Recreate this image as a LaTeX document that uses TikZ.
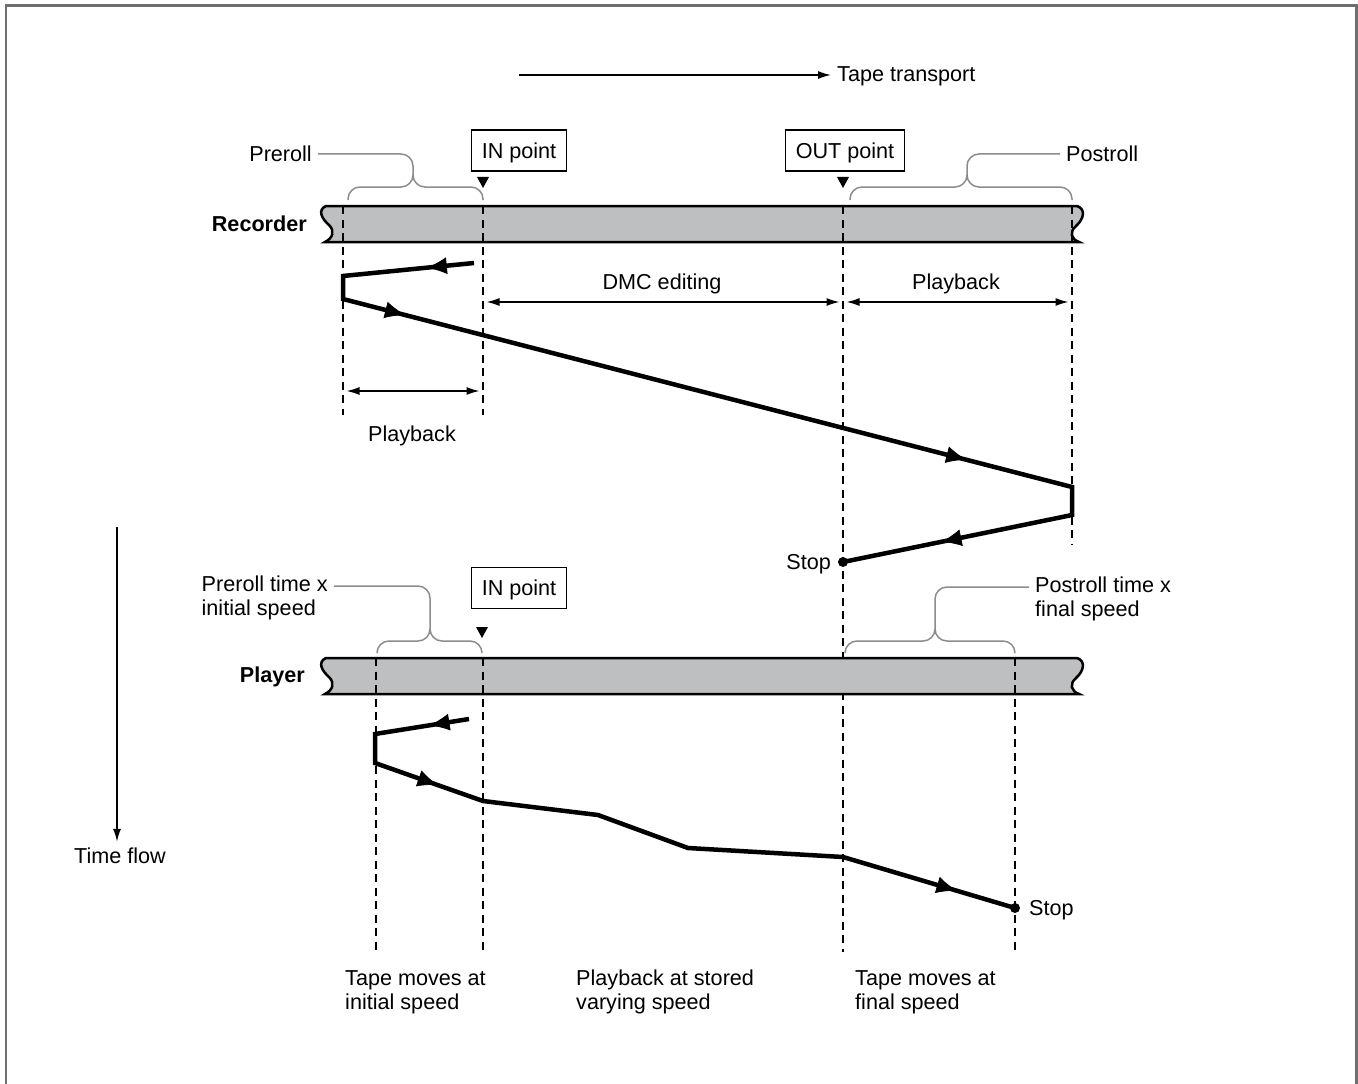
\documentclass[tikz,border=0pt]{standalone}
\usepackage{fontspec}
\setmainfont{Liberation Sans}
\usetikzlibrary{arrows.meta,decorations.markings}

\definecolor{tapegray}{HTML}{BEBFC1}
\definecolor{bracegray}{HTML}{8C8C8C}
\definecolor{framegray}{HTML}{6E6E6E}

\tikzset{
  tapeband/.style={draw=black, line width=0.5mm, fill=tapegray},
  cueline/.style={line width=0.3mm, dash pattern=on 1.6mm off 1.1mm},
  rollbrace/.style={bracegray, line width=0.3mm, rounded corners=2.4mm},
  spanarrow/.style={line width=0.3mm, {Latex[length=2.6mm,width=1.6mm]}-{Latex[length=2.6mm,width=1.6mm]}, shorten >=0.7mm, shorten <=0.7mm},
  flowarrow/.style={line width=0.3mm, -{Latex[length=2.6mm,width=1.6mm]}},
  tapepath/.style={line width=0.9mm, line join=miter},
  midarrow/.style={postaction={decorate}, decoration={markings, mark=at position #1 with {\arrow{Latex[length=4mm,width=3.4mm]}}}},
  cuebox/.style={draw, line width=0.25mm, minimum height=8.2mm, inner xsep=2mm, text depth=0pt},
  vtrname/.style={font=\fontsize{12.3}{13.6}\selectfont\bfseries}
}

% torn tape strip, top edge at y=#1
\newcommand{\drawtape}[1]{
  \draw[tapeband] (326,#1) -- (1077,#1)
    .. controls (1086,#1+3) and (1084,#1+13) .. (1076,#1+20)
    .. controls (1069,#1+26) and (1071,#1+33) .. (1079,#1+36)
    -- (325,#1+36)
    .. controls (333,#1+32) and (335,#1+25) .. (329,#1+19)
    .. controls (322,#1+13) and (317,#1+4) .. (326,#1) -- cycle;
}
% cue marker below a box
\newcommand{\cuemark}[2]{
  \fill (#1-6,#2-5) -- (#1+6,#2-5) -- (#1,#2+6) -- cycle;
}

\begin{document}
\begin{tikzpicture}[x=0.2mm, y=-0.2mm, font=\fontsize{12.3}{13.6}\selectfont]
    \def\rectop{206}
    \def\plytop{658}

    \useasboundingbox (0,0) rectangle (1358,1084);
    \draw[framegray, line width=0.45mm] (6,1090) -- (6,5.5) -- (1356.5,5.5) -- (1356.5,1090);

    % directions
    \coordinate (tpStart) at (519,75);
    \node[anchor=west] (tpLabel) at (831,76) {Tape transport};
    \draw[flowarrow] (tpStart) -- (tpStart -| tpLabel.west);

    \coordinate (tfStart) at (117,527);
    \node (tfLabel) at (120,856) {Time flow};
    \draw[flowarrow] (tfStart) -- (tfStart |- tfLabel.north);

    % ---------------- recorder ----------------
    \drawtape{\rectop}
    \node[vtrname, anchor=east] (recLabel) at (313,224) {Recorder};

    \coordinate (recPre) at (343,\rectop);
    \coordinate (recIn) at (483,\rectop);
    \coordinate (recOut) at (843,\rectop);
    \coordinate (recPost) at (1072,\rectop);
    \draw[cueline] (recPre) -- (343,415);
    \draw[cueline] (recIn) -- (483,415);
    \draw[cueline] (recOut) -- (843,952);
    \draw[cueline] (recPost) -- (1072,545);

    \node[cuebox] (recInBox) at (519,150.5) {IN point};
    \node[cuebox] (recOutBox) at (845,150.5) {OUT point};
    \cuemark{483}{182}
    \cuemark{843}{182}

    \node[anchor=east] (recPreLabel) at (318,154) {Preroll};
    \coordinate (recPreTop) at (413,154);
    \draw[rollbrace] (348,200) -- (348,187) -- (413,187) -- (recPreTop) -- (recPreLabel.east);
    \draw[rollbrace] (483,200) -- (483,187) -- (413,187) -- (413,175);

    \node[anchor=west] (recPostLabel) at (1060,154) {Postroll};
    \coordinate (recPostTop) at (967,154);
    \draw[rollbrace] (1072,200) -- (1072,187) -- (967,187) -- (recPostTop) -- (recPostLabel.west);
    \draw[rollbrace] (850,200) -- (850,187) -- (967,187) -- (967,175);

    \coordinate (dimRow) at (0,302);
    \coordinate (dimLow) at (0,391);
    \draw[spanarrow] (recIn |- dimRow) -- (recOut |- dimRow);
    \draw[spanarrow] (recOut |- dimRow) -- (recPost |- dimRow);
    \draw[spanarrow] (recPre |- dimLow) -- (recIn |- dimLow);
    \node (dmcLabel) at (662,284) {DMC editing};
    \node (recPbLabel) at (956,284) {Playback};
    \node (recPbLow) at (412,436) {Playback};

    \coordinate (r1) at (474,263);
    \coordinate (r2) at (343,276);
    \coordinate (r3) at (343,299);
    \coordinate (r4) at (1072,487);
    \coordinate (r5) at (1072,515);
    \coordinate (r6) at (843,562);
    \draw[tapepath] (r1) -- (r2) -- (r3) -- (r4) -- (r5) -- (r6);
    \path[midarrow=0.36] (r1) -- (r2);
    \path[midarrow=0.085] (r3) -- (r4);
    \path[midarrow=0.855] (r3) -- (r4);
    \path[midarrow=0.57] (r5) -- (r6);
    \fill (r6) circle (5);
    \node[anchor=east] (recStop) at (837,564) {Stop};

    % ---------------- player ----------------
    \drawtape{\plytop}
    \node[vtrname, anchor=east] (plyLabel) at (311,677) {Player};

    \coordinate (plyPre) at (376,\plytop);
    \coordinate (plyIn) at (483,\plytop);
    \coordinate (plyPost) at (1015,\plytop);
    \draw[cueline] (plyPre) -- (376,955);
    \draw[cueline] (plyIn) -- (483,955);
    \draw[cueline] (plyPost) -- (1015,955);

    \node[cuebox] (plyInBox) at (519,588) {IN point};
    \cuemark{482}{632}

    \node[anchor=east, align=left] (plyPreLabel) at (334,598) {Preroll time x\\initial speed};
    \coordinate (plyPreTop) at (430,586);
    \draw[rollbrace] (377,653) -- (377,641) -- (430,641) -- (plyPreTop) -- (plyPreTop -| plyPreLabel.east);
    \draw[rollbrace] (482,653) -- (482,641) -- (430,641) -- (430,629);

    \node[anchor=west, align=left] (plyPostLabel) at (1029,599) {Postroll time x\\final speed};
    \coordinate (plyPostTop) at (935,587);
    \draw[rollbrace] (845,653) -- (845,641) -- (935,641) -- (plyPostTop) -- (plyPostTop -| plyPostLabel.west);
    \draw[rollbrace] (1015,653) -- (1015,641) -- (935,641) -- (935,629);

    \coordinate (p1) at (469,719);
    \coordinate (p2) at (375,734);
    \coordinate (p3) at (375,763);
    \coordinate (p4) at (483,801);
    \coordinate (p5) at (598,815);
    \coordinate (p6) at (688,848);
    \coordinate (p7) at (843,857);
    \coordinate (p8) at (1015,908);
    \draw[tapepath] (p1) -- (p2) -- (p3) -- (p4) -- (p5) -- (p6) -- (p7) -- (p8);
    \path[midarrow=0.42] (p1) -- (p2);
    \path[midarrow=0.58] (p3) -- (p4);
    \path[midarrow=0.66] (p7) -- (p8);
    \fill (p8) circle (5);
    \node[anchor=west] (plyStop) at (1023,910) {Stop};

    % notes under the time axis
    \node[anchor=west, align=left] (noteInit) at (339,992) {Tape moves at\\initial speed};
    \node[anchor=west, align=left] (noteVary) at (570,992) {Playback at stored\\varying speed};
    \node[anchor=west, align=left] (noteFinal) at (849,992) {Tape moves at\\final speed};
\end{tikzpicture}
\end{document}
